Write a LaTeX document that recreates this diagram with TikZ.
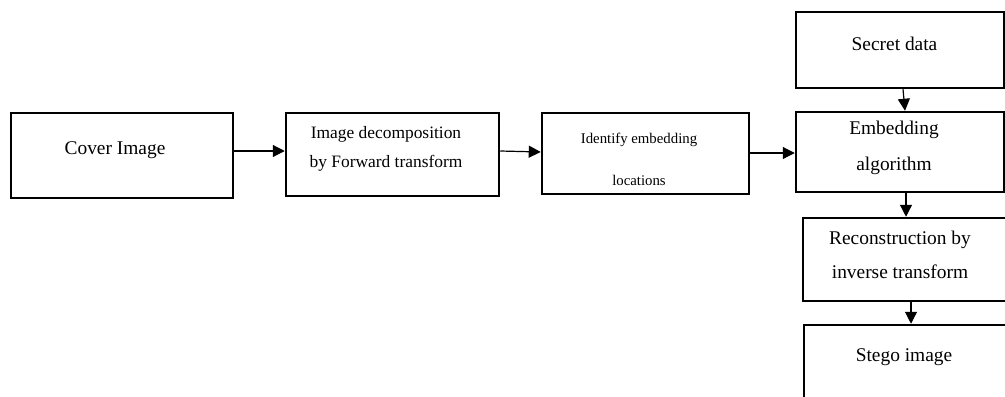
\documentclass[tikz,border=0pt]{standalone}
\usepackage{fontspec}
\setmainfont{Liberation Serif}
\usetikzlibrary{arrows.meta,calc}
\begin{document}
\begin{tikzpicture}[x=0.5pt,y=-0.5pt,
  box/.style={draw=black, line width=1.25pt, inner sep=0pt, fill=white},
  lbl/.style={align=center, inner sep=0pt, text=black},
  arr/.style={draw=black, line width=0.6pt, -{Triangle[length=6pt,width=6pt]}}]
\useasboundingbox (0,0) rectangle (1005,396);
\clip (0,0) rectangle (1005,396);
\fill[white] (0,0) rectangle (1005,396);
% boxes
\node[box, minimum width=111pt, minimum height=42.5pt] (cover) at (122,155.5) {};
\node[box, minimum width=106.5pt, minimum height=41.5pt] (decomp) at (392.5,154.5) {};
\node[box, minimum width=103.5pt, minimum height=40.5pt] (locs) at (645.5,153.5) {};
\node[box, minimum width=104pt, minimum height=38pt] (secret) at (900,50) {};
\node[box, minimum width=104pt, minimum height=40pt] (embed) at (900,152) {};
\node[box, minimum width=104.5pt, minimum height=41.5pt] (recon) at (907.5,259.5) {};
\node[box, minimum width=104pt, minimum height=47.5pt] (stego) at (908,372.5) {};
% texts
\node[lbl, font=\fontsize{9.7pt}{12pt}\selectfont] (tcover) at (115,150) {Cover Image};
\node[lbl, font=\fontsize{8.7pt}{14.5pt}\selectfont] (tdecomp) at (386,149) {Image decomposition\\by Forward transform};
\node[lbl, font=\fontsize{7.4pt}{21pt}\selectfont] (tlocs) at (639,159) {Identify embedding\\locations};
\node[lbl, font=\fontsize{9.7pt}{12pt}\selectfont] (tsecret) at (894.5,44) {Secret data};
\node[lbl, font=\fontsize{9.7pt}{18pt}\selectfont] (tembed) at (894,148) {Embedding\\algorithm};
\node[lbl, font=\fontsize{9.7pt}{17pt}\selectfont] (trecon) at (900,255) {Reconstruction by\\inverse transform};
\node[lbl, font=\fontsize{9.7pt}{12pt}\selectfont] (tstego) at (904,357) {Stego image};
% connectors
\draw[arr] ($(cover.east)+(0,-4.5)$) -- ($(decomp.west)+(0,-3.5)$);
\draw[arr] ($(decomp.east)+(0,-3.5)$) -- ($(locs.west)+(0,-1.5)$);
\draw[arr] ($(locs.east)+(0,-0.5)$) -- ($(embed.west)+(0,1)$);
\draw[arr] ($(secret.south)+(3,0)$) -- ($(embed.north)+(5,0)$);
\draw[arr] ($(embed.south)+(6,0)$) -- ($(recon.north)+(-1.5,0)$);
\draw[arr] ($(recon.south)+(3.5,0)$) -- ($(stego.north)+(3,0)$);
\end{tikzpicture}
\end{document}
